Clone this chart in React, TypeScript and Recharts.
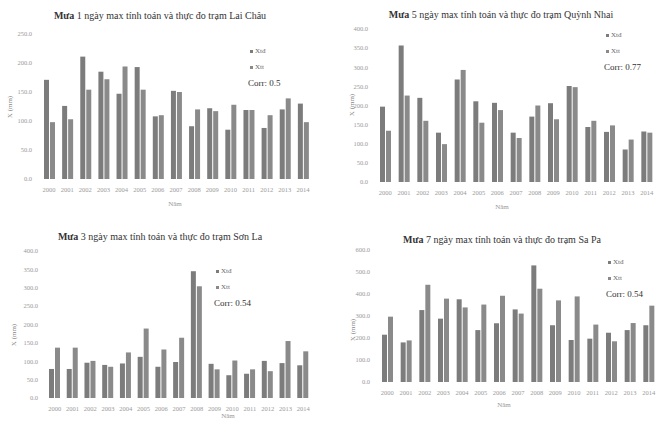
import React from "react";
import { Bar, BarChart, XAxis, YAxis } from "recharts";

const years = ["2000", "2001", "2002", "2003", "2004", "2005", "2006", "2007", "2008", "2009", "2010", "2011", "2012", "2013", "2014"];

// Lai Châu, mưa 1 ngày max
const laiChauTd = [171, 126, 211, 185, 147, 193, 108, 152, 91, 122, 85, 119, 88, 120, 130];
const laiChauTt = [98, 103, 154, 172, 194, 154, 110, 150, 120, 117, 128, 119, 110, 139, 98];

// Quỳnh Nhai, mưa 5 ngày max
const quynhNhaiTd = [197, 357, 220, 129, 268, 211, 207, 129, 171, 206, 251, 144, 131, 85, 132];
const quynhNhaiTt = [134, 226, 160, 99, 293, 155, 188, 115, 200, 164, 248, 160, 148, 111, 129];

// Sơn La, mưa 3 ngày max
const sonLaTd = [79, 79, 96, 90, 94, 112, 85, 98, 345, 93, 62, 66, 101, 95, 89];
const sonLaTt = [137, 137, 101, 85, 124, 189, 132, 164, 304, 78, 102, 78, 73, 155, 127];

// Sa Pa, mưa 7 ngày max
const saPaTd = [215, 180, 327, 288, 376, 236, 267, 330, 530, 258, 191, 197, 224, 236, 258];
const saPaTt = [297, 189, 442, 379, 339, 352, 392, 311, 424, 371, 389, 261, 185, 268, 347];

const ticks250 = [0, 50, 100, 150, 200, 250];
const ticks400 = [0, 50, 100, 150, 200, 250, 300, 350, 400];
const ticks600 = [0, 100, 200, 300, 400, 500, 600];

const FONT = '"Liberation Serif", "DejaVu Serif", serif';
const BAR_TD = "#7c7c7c";
const BAR_TT = "#8a8a8a";
const TICK = "#9a9a9a";

function buildRows(td: number[], tt: number[]) {
  return years.map((y, i) => ({ year: y, td: td[i], tt: tt[i] }));
}

interface PanelProps {
  left: number;
  top: number;
  width: number;
  height: number;
  days: string;
  station: string;
  td: number[];
  tt: number[];
  ticks: number[];
  margin: { top: number; right: number; bottom: number; left: number };
  yWidth: number;
  titleX: number;
  titleY: number;
  legendX: number;
  legendY: number;
  corr: string;
  yLabelX: number;
  yLabelY: number;
  namX: number;
  namY: number;
}

function Panel(p: PanelProps) {
  const data = buildRows(p.td, p.tt);
  const max = p.ticks[p.ticks.length - 1];
  return (
    <div style={{ position: "absolute", left: p.left, top: p.top, width: p.width, height: p.height }}>
      <BarChart width={p.width} height={p.height} data={data} margin={p.margin} barGap={1} barCategoryGap="30%">
        <XAxis
          dataKey="year"
          interval={0}
          axisLine={false}
          tickLine={false}
          height={20}
          tickMargin={2}
          tick={{ fontSize: 6.5, fill: TICK, fontFamily: FONT }}
        />
        <YAxis
          type="number"
          domain={[0, max]}
          ticks={p.ticks}
          width={p.yWidth}
          axisLine={false}
          tickLine={false}
          tickMargin={2}
          tickFormatter={(v: number) => v.toFixed(1)}
          tick={{ fontSize: 6.5, fill: TICK, fontFamily: FONT }}
        />
        <Bar dataKey="td" name="Xtđ" fill={BAR_TD} barSize={5} isAnimationActive={false} />
        <Bar dataKey="tt" name="Xtt" fill={BAR_TT} barSize={5} isAnimationActive={false} />
      </BarChart>

      <div
        style={{
          position: "absolute",
          left: p.titleX,
          top: p.titleY,
          transform: "translate(-50%, -50%)",
          whiteSpace: "nowrap",
          fontFamily: FONT,
          fontSize: 10,
          color: "#333",
        }}
      >
        <b>Mưa</b> {p.days} ngày max tính toán và thực đo trạm {p.station}
      </div>

      <div style={{ position: "absolute", left: p.legendX, top: p.legendY, fontFamily: FONT, fontSize: 7, color: "#666", lineHeight: "16px" }}>
        <div>
          <span style={{ display: "inline-block", width: 3, height: 3, background: BAR_TD, marginRight: 2, verticalAlign: "middle" }} />
          Xtđ
        </div>
        <div>
          <span style={{ display: "inline-block", width: 3, height: 3, background: BAR_TT, marginRight: 2, verticalAlign: "middle" }} />
          Xtt
        </div>
        <div style={{ fontSize: 9, color: "#333", marginLeft: -2 }}>Corr: {p.corr}</div>
      </div>

      <div
        style={{
          position: "absolute",
          left: p.yLabelX,
          top: p.yLabelY,
          transform: "translate(-50%, -50%) rotate(-90deg)",
          whiteSpace: "nowrap",
          fontFamily: FONT,
          fontSize: 7,
          color: "#888",
        }}
      >
        X (mm)
      </div>

      <div
        style={{
          position: "absolute",
          left: p.namX,
          top: p.namY,
          transform: "translate(-50%, -50%)",
          fontFamily: FONT,
          fontSize: 7,
          color: "#999",
        }}
      >
        Năm
      </div>
    </div>
  );
}

export default function App() {
  return (
    <div style={{ position: "absolute", left: 0, top: 0, width: 656, height: 423, overflow: "hidden", background: "#fff" }}>
      <Panel
        left={0} top={0} width={330} height={215}
        days="1" station="Lai Châu" td={laiChauTd} tt={laiChauTt} ticks={ticks250}
        margin={{ top: 34, right: 18, bottom: 16, left: 0 }} yWidth={40}
        titleX={160} titleY={15} legendX={250} legendY={43} corr="0.5"
        yLabelX={10} yLabelY={107} namX={175} namY={204}
      />
      <Panel
        left={330} top={0} width={330} height={215}
        days="5" station="Quỳnh Nhai" td={quynhNhaiTd} tt={quynhNhaiTt} ticks={ticks400}
        margin={{ top: 29, right: 4, bottom: 13, left: 0 }} yWidth={46}
        titleX={171} titleY={14} legendX={276} legendY={27} corr="0.77"
        yLabelX={22} yLabelY={105} namX={172} namY={207}
      />
      <Panel
        left={0} top={215} width={330} height={208}
        days="3" station="Sơn La" td={sonLaTd} tt={sonLaTt} ticks={ticks400}
        margin={{ top: 36, right: 18, bottom: 5, left: 0 }} yWidth={46}
        titleX={160} titleY={21} legendX={216} legendY={48} corr="0.54"
        yLabelX={14} yLabelY={120} namX={228} namY={201}
      />
      <Panel
        left={330} top={215} width={330} height={208}
        days="7" station="Sa Pa" td={saPaTd} tt={saPaTt} ticks={ticks600}
        margin={{ top: 35, right: 2, bottom: 21, left: 0 }} yWidth={48}
        titleX={172} titleY={24} legendX={278} legendY={39} corr="0.54"
        yLabelX={23} yLabelY={115} namX={174} namY={190}
      />
    </div>
  );
}
